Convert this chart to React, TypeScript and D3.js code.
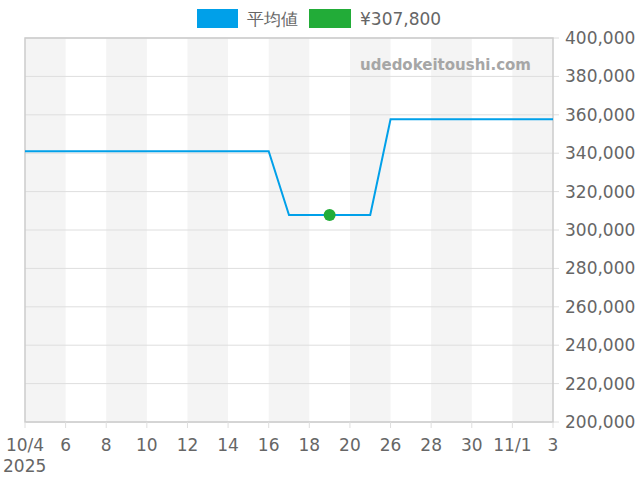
import React from 'react';
import * as d3 from 'd3';

// one category per day that has data (10/22-10/25 missing)
const days = [
  '10/4', '10/5', '10/6', '10/7', '10/8', '10/9', '10/10', '10/11', '10/12',
  '10/13', '10/14', '10/15', '10/16', '10/17', '10/18', '10/19', '10/20', '10/21',
  '10/26', '10/27', '10/28', '10/29', '10/30', '10/31', '11/1', '11/2', '11/3',
];

const averages = [
  341000, 341000, 341000, 341000, 341000, 341000, 341000, 341000, 341000,
  341000, 341000, 341000, 341000, 307800, 307800, 307800, 307800, 307800,
  357700, 357700, 357700, 357700, 357700, 357700, 357700, 357700, 357700,
];

const tickLabels = ['10/4', '6', '8', '10', '12', '14', '16', '18', '20', '26', '28', '30', '11/1', '3'];
const yTicks = [200000, 220000, 240000, 260000, 280000, 300000, 320000, 340000, 360000, 380000, 400000];

const pointDay = '10/19';
const pointValue = 307800;

const W = 640;
const H = 480;
const margin = { top: 38, right: 87, bottom: 58, left: 25 };
const FONT = '"DejaVu Sans", sans-serif';

const App: React.FC = () => {
  const innerW = W - margin.left - margin.right;
  const innerH = H - margin.top - margin.bottom;

  const x = d3.scalePoint<string>().domain(days).range([0, innerW]);
  const y = d3.scaleLinear().domain([200000, 400000]).range([innerH, 0]);
  const step = x.step();

  const line = d3
    .line<number>()
    .x((_, i) => x(days[i])!)
    .y((d) => y(d));

  // shaded bands every other pair of days
  const bands = d3.range(0, days.length - 1, 4);
  const tickIdx = d3.range(0, days.length, 2);
  const fmt = d3.format(',');

  return (
    <svg width={W} height={H} style={{ position: 'absolute', left: 0, top: 0 }}>
      <rect width={W} height={H} fill="#fff" />
      {/* legend */}
      <g fontFamily={FONT} fontSize={17} fill="#666">
        <rect x={197} y={9} width={41} height={19} fill="#00a0e9" />
        <text x={247} y={25}>平均値</text>
        <rect x={309} y={9} width={42} height={19} fill="#22ac38" />
        <text x={360} y={25}>¥{fmt(pointValue)}</text>
      </g>
      <g transform={`translate(${margin.left},${margin.top})`}>
        {bands.map((b) => (
          <rect key={b} x={x(days[b])!} y={0} width={step * 2} height={innerH} fill="#f4f4f4" />
        ))}
        {yTicks.map((t) => (
          <line key={t} x1={0} x2={innerW + 6} y1={y(t)} y2={y(t)} stroke="#dedede" strokeWidth={1} />
        ))}
        <text
          x={506}
          y={32}
          textAnchor="end"
          fontFamily={FONT}
          fontWeight="bold"
          fontSize={15}
          fill="#a6a6a6"
        >
          udedokeitoushi.com
        </text>
        <rect x={0} y={0} width={innerW} height={innerH} fill="none" stroke="#ccc" strokeWidth={1.5} />
        {tickIdx.map((i) => (
          <line key={i} x1={x(days[i])!} x2={x(days[i])!} y1={innerH} y2={innerH + 6} stroke="#dedede" />
        ))}
        <path d={line(averages)!} fill="none" stroke="#00a0e9" strokeWidth={2} />
        <circle cx={x(pointDay)!} cy={y(pointValue)} r={6} fill="#22ac38" />
        <g fontFamily={FONT} fontSize={17} fill="#666">
          {tickIdx.map((i, k) => (
            <text key={i} x={x(days[i])!} y={innerH + 29} textAnchor="middle">
              {tickLabels[k]}
            </text>
          ))}
          <text x={-22} y={innerH + 50}>2025</text>
          {yTicks.map((t) => (
            <text key={t} x={innerW + 12} y={y(t) + 6}>
              {fmt(t)}
            </text>
          ))}
        </g>
      </g>
    </svg>
  );
};

export default App;
